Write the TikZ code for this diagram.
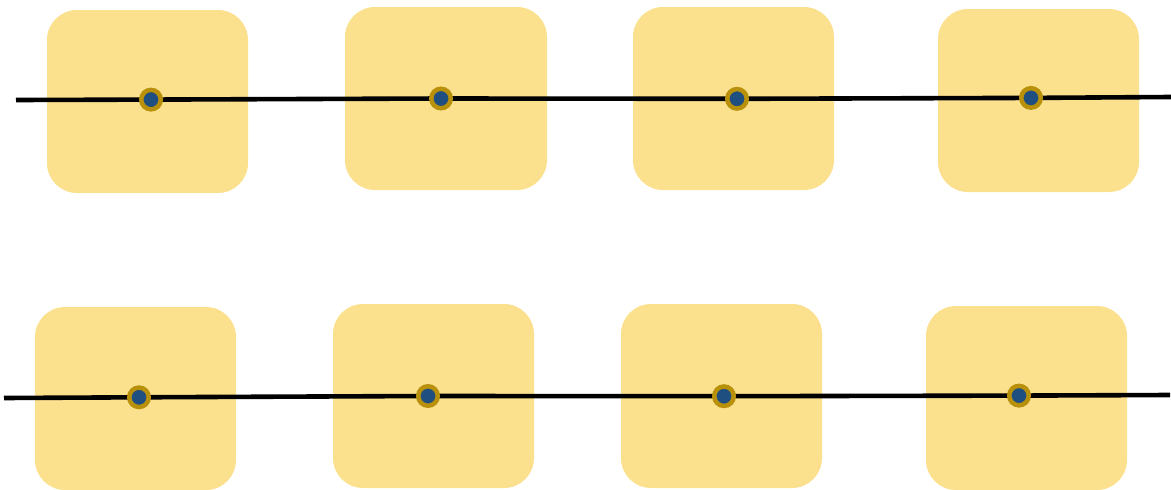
\documentclass[tikz,border=0pt]{standalone}
\pgfdeclarelayer{back}
\pgfsetlayers{back,main}
\begin{document}
\begin{tikzpicture}[x=1pt,y=-1pt,
  tile/.style={fill=tilefill,rounded corners=30pt},
  pin/.style={circle,draw=pinring,line width=4.5pt,fill=pincore,minimum size=19.5pt,inner sep=0pt},
  rail/.style={line width=4.6pt,black}]
\definecolor{tilefill}{HTML}{FBE18E}
\definecolor{pinring}{HTML}{B8900A}
\definecolor{pincore}{HTML}{1F4E80}
\useasboundingbox (0,0) rectangle (1171,490);
% rail ends
\coordinate (ta) at (16,100);
\coordinate (tb) at (1171,97);
\coordinate (ba) at (4,398);
\coordinate (bb) at (1170,395);
% pins
\node[pin] (t1) at (151,99.6) {};
\node[pin] (t2) at (441,98.5) {};
\node[pin] (t3) at (737,98.8) {};
\node[pin] (t4) at (1031,97.9) {};
\node[pin] (b1) at (139,397.3) {};
\node[pin] (b2) at (428,396) {};
\node[pin] (b3) at (724,396.2) {};
\node[pin] (b4) at (1019,395.6) {};
\begin{pgfonlayer}{back}
% tiles, top row
\fill[tile] (47,10) rectangle (248,193);
\fill[tile] (345,7) rectangle (547,190);
\fill[tile] (633,7) rectangle (834,190);
\fill[tile] (938,9) rectangle (1139,192);
% tiles, bottom row
\fill[tile] (35,307) rectangle (236,490);
\fill[tile] (333,304) rectangle (534,488);
\fill[tile] (621,304) rectangle (822,488);
\fill[tile] (926,306) rectangle (1127,490);
% rails, passing under the pins
\draw[rail] (ta) -- (t1.center) -- (t2.center) -- (t3.center) -- (t4.center) -- (tb);
\draw[rail] (ba) -- (b1.center) -- (b2.center) -- (b3.center) -- (b4.center) -- (bb);
\end{pgfonlayer}
\end{tikzpicture}
\end{document}
